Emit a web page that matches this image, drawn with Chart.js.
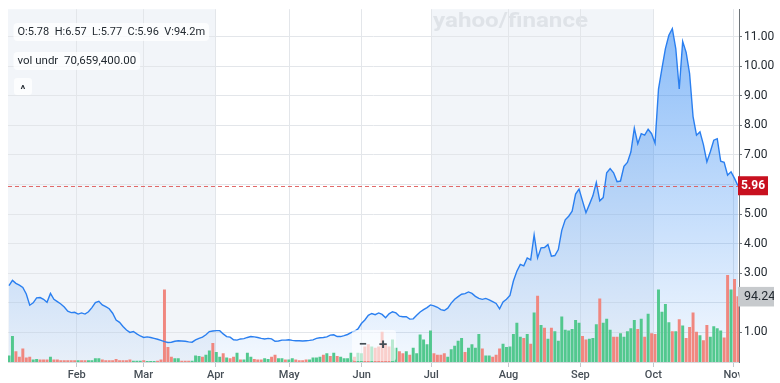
<!DOCTYPE html>
<html><head><meta charset="utf-8">
<script src="https://cdn.jsdelivr.net/npm/chart.js@4/dist/chart.umd.min.js"></script>
<style>html,body{margin:0;padding:0;background:#fff;overflow:hidden}canvas{display:block}</style>
</head><body>
<canvas id="c" width="780" height="383"></canvas>
<script>
// ---- data ----
const monthLabels = ['Feb','Mar','Apr','May','Jun','Jul','Aug','Sep','Oct','Nov'];
const monthPos = [19.6,38.9,59.8,81.1,102.1,122.2,144.6,165.4,186.5,209.6]; // in trading-day index units
const priceTicks = [1,2,3,4,5,6,7,8,9,10,11];

const price = [
2.58,2.76,2.66,2.60,2.52,2.30,1.92,2.00,2.17,2.18,
2.12,2.02,2.32,2.12,2.04,1.96,1.86,1.72,1.67,1.68,
1.62,1.66,1.62,1.70,1.84,2.01,2.05,1.93,1.87,1.80,
1.65,1.42,1.34,1.20,1.08,1.00,1.03,0.95,0.88,0.83,
0.85,0.83,0.80,0.77,0.73,0.69,0.66,0.67,0.70,0.72,
0.71,0.70,0.68,0.67,0.75,0.80,0.84,0.92,1.03,1.05,
1.06,1.06,0.95,0.86,0.84,0.75,0.74,0.78,0.79,0.83,
0.86,0.85,0.83,0.80,0.78,0.80,0.78,0.70,0.71,0.74,
0.74,0.75,0.73,0.72,0.72,0.71,0.72,0.73,0.75,0.80,
0.82,0.83,0.85,0.91,0.92,0.86,0.86,0.89,0.93,0.99,
1.04,1.12,1.30,1.42,1.58,1.64,1.60,1.66,1.61,1.50,
1.63,1.70,1.66,1.55,1.53,1.53,1.45,1.46,1.58,1.69,
1.77,1.84,1.93,1.90,1.85,1.77,1.74,1.82,1.99,2.12,
2.21,2.29,2.31,2.37,2.32,2.22,2.15,2.12,2.15,2.10,
2.04,1.98,1.80,2.03,2.12,2.25,2.74,3.07,3.30,3.25,
3.52,3.45,4.30,3.52,3.86,3.87,3.97,3.58,3.60,3.80,
4.45,4.81,4.93,5.10,5.68,5.85,5.45,5.05,5.33,5.62,
6.07,5.45,5.56,6.40,6.54,6.40,6.10,6.12,6.62,6.75,
7.10,7.91,7.38,7.72,7.67,7.87,7.72,7.40,9.23,9.93,
10.60,11.05,11.27,10.60,9.23,10.84,10.47,9.75,8.30,7.67,
7.78,7.35,6.77,7.11,7.50,7.55,6.79,6.75,6.32,6.43,
6.21,5.96];

const volumeM = [
9,37,15,7,19,6,7,3,4,3, 3,3,7,3,3,2,2,2,2,2,
2,2,2,2,2,5,5,3,2,2, 2,4,2,2,2,3,1.5,1.5,1.5,2,
1,1,1,1.5,3,104,21,7,5,5, 1.5,1.5,1.5,1.5,9,8,7,10,16,27,
14,7,12,6,5,7,13,3,3,13,
7,4,3,3,5,4,7,10,5,5, 3,3,5,3,2,2,3,3,6,6,
7,10,12,8,13,8,7,5,5,13, 7,13,12,22,25,22,20,22,43,25,
22,32,20,15,12,15,10,20,12,39, 32,25,45,12,10,10,12,7,18,23,
30,34,14,20,25,20,40,19,9,9,
7,10,19,26,21,22,40,56,36,34, 40,26,71,95,53,49,33,49,44,30,
65,46,45,47,60,56,37,32,33,34, 54,91,56,62,46,36,36,41,36,44,
48,60,47,62,36,69,41,40,104,72, 83,57,44,44,61,52,34,50,71,43,
38,31,53,36,51,48,45,35,125,104, 119,94.24];

const volumeUp = [
1,1,0,0,0,0,0,1,1,0, 0,0,1,0,0,0,0,0,0,0,
1,0,0,1,1,1,1,0,0,0, 0,0,0,0,0,0,1,1,1,0,
1,1,1,0,0,0,0,0,1,1, 0,0,0,1,1,1,0,1,1,0,
1,1,0,1,0,0,1,0,1,1,
1,0,0,0,1,1,0,0,1,1, 0,1,1,0,0,0,0,1,1,1,
1,0,1,0,1,0,1,1,1,1, 0,1,1,0,0,1,0,0,0,0,
0,1,1,0,0,1,0,1,1,1, 1,1,1,0,0,0,0,1,1,1,
1,1,0,1,1,1,1,0,1,1,
0,0,0,1,1,1,1,1,1,0, 1,0,1,0,1,0,1,0,1,1,
1,1,1,1,1,1,0,0,1,1, 1,0,1,1,1,0,0,1,1,1,
1,1,0,1,0,1,0,0,1,1, 1,1,0,1,0,1,0,0,0,0,
1,0,0,1,1,1,1,0,0,1, 0,0];

const ohlcText = 'O:5.78  H:6.57  L:5.77  C:5.96  V:94.2m';
const volUnderText = 'vol undr  70,659,400.00';
const lastVolumeLabel = '94.24M';

// ---- drawing ----
const FONT = 'Roboto, "Liberation Sans", Arial, sans-serif';
const lastPrice = price[price.length - 1];
const lastVol = volumeM[volumeM.length - 1];

function rr(ctx, x, y, w, h, r) {
  ctx.beginPath();
  ctx.moveTo(x + r, y); ctx.lineTo(x + w - r, y); ctx.quadraticCurveTo(x + w, y, x + w, y + r);
  ctx.lineTo(x + w, y + h - r); ctx.quadraticCurveTo(x + w, y + h, x + w - r, y + h);
  ctx.lineTo(x + r, y + h); ctx.quadraticCurveTo(x, y + h, x, y + h - r);
  ctx.lineTo(x, y + r); ctx.quadraticCurveTo(x, y, x + r, y); ctx.closePath();
}

const decor = {
  id: 'decor',
  beforeDraw(chart) {
    const { ctx, chartArea: a, scales: { x } } = chart;
    ctx.save();
    ctx.fillStyle = '#ffffff';
    ctx.fillRect(0, 0, chart.width, chart.height);
    ctx.fillStyle = '#f2f5f9';
    const apr = x.getPixelForValue(monthPos[2]);
    ctx.fillRect(a.left, a.top, apr - a.left, a.bottom - a.top);
    const jul = x.getPixelForValue(monthPos[5]), oct = x.getPixelForValue(monthPos[8]);
    ctx.fillRect(jul, a.top, oct - jul, a.bottom - a.top);
    // watermark
    ctx.font = 'bold 20px ' + FONT;
    const wm = 'yahoo/finance';
    const w = ctx.measureText(wm).width;
    ctx.translate(433, 26.5);
    ctx.scale(155 / w, 1);
    ctx.fillStyle = '#dfe3e8';
    ctx.textBaseline = 'alphabetic';
    ctx.fillText(wm, 0, 0);
    ctx.restore();
  },
  afterDatasetsDraw(chart) {
    const { ctx, chartArea: a, scales: { y } } = chart;
    const py = Math.round(y.getPixelForValue(lastPrice)) + 0.5;
    ctx.save();
    ctx.strokeStyle = 'rgba(222,80,80,0.85)';
    ctx.lineWidth = 1;
    ctx.setLineDash([4, 3]);
    ctx.beginPath(); ctx.moveTo(a.left, py); ctx.lineTo(a.right, py); ctx.stroke();
    ctx.restore();
  },
  afterDraw(chart) {
    const { ctx, chartArea: a, scales: { y, yv } } = chart;
    ctx.save();
    // clip month label past the axis
    ctx.fillStyle = '#ffffff';
    ctx.fillRect(a.right + 0.5, a.bottom + 1, chart.width - a.right, chart.height - a.bottom);
    // zoom controls
    ctx.fillStyle = 'rgba(255,255,255,0.6)';
    rr(ctx, 352, 330, 44, 31, 3); ctx.fill();
    ctx.fillStyle = '#464e56';
    ctx.font = 'bold 15px ' + FONT;
    ctx.textAlign = 'center'; ctx.textBaseline = 'middle';
    ctx.fillText('\u2212', 363, 345);
    ctx.fillText('+', 383, 345);
    // last price label
    const py = y.getPixelForValue(lastPrice);
    ctx.fillStyle = '#c8101f';
    ctx.fillRect(a.right - 1, py - 9.5, 30, 19);
    ctx.fillStyle = '#ffffff';
    ctx.font = 'bold 12px ' + FONT;
    ctx.fillText(lastPrice.toFixed(2), a.right + 14, py + 0.5);
    // last volume label (clipped at its box edge)
    const vy = yv.getPixelForValue(lastVol);
    ctx.save();
    ctx.beginPath(); ctx.rect(a.right - 1, vy - 10, 774 - a.right + 1, 20); ctx.clip();
    ctx.fillStyle = '#c7cacd';
    ctx.fillRect(a.right - 1, vy - 10, 45, 20);
    ctx.fillStyle = '#232a31';
    ctx.font = '12.5px ' + FONT;
    ctx.textAlign = 'left';
    ctx.fillText(lastVolumeLabel, a.right + 5, vy + 0.5);
    ctx.restore();
    // top-left info boxes
    ctx.textAlign = 'left'; ctx.textBaseline = 'middle';
    ctx.fillStyle = 'rgba(255,255,255,0.75)';
    ctx.font = '11px ' + FONT;
    const w1 = ctx.measureText(ohlcText).width;
    rr(ctx, 13.5, 23, w1 + 8, 18, 4); ctx.fill();
    ctx.font = '11.5px ' + FONT;
    const w2 = ctx.measureText(volUnderText).width;
    rr(ctx, 13.5, 52, w2 + 8, 18, 4); ctx.fill();
    rr(ctx, 14, 78, 18, 17, 3); ctx.fill();
    ctx.fillStyle = '#232a31';
    ctx.font = '11px ' + FONT;
    ctx.fillText(ohlcText, 17.5, 32.5);
    ctx.font = '11.5px ' + FONT;
    ctx.fillText(volUnderText, 17.5, 61.5);
    ctx.textAlign = 'center'; ctx.textBaseline = 'alphabetic';
    ctx.font = 'bold 11px ' + FONT;
    ctx.fillText('^', 23, 93);
    ctx.restore();
  }
};

const pricePts = price.map((v, i) => ({ x: i, y: v }));
const volPts = volumeM.map((v, i) => ({ x: i, y: v }));

function fillGrad(c) {
  const a = c.chart.chartArea;
  if (!a) return 'rgba(0,0,0,0)';
  const g = c.chart.ctx.createLinearGradient(0, a.top, 0, a.bottom);
  g.addColorStop(0, 'rgba(34,128,242,0.55)');
  g.addColorStop(1, 'rgba(34,128,242,0.05)');
  return g;
}

new Chart(document.getElementById('c'), {
  type: 'line',
  data: {
    datasets: [
      { type: 'line', data: pricePts, yAxisID: 'y', xAxisID: 'x', borderWidth: 0, pointRadius: 0,
        tension: 0, fill: 'start', backgroundColor: fillGrad, order: 3 },
      { type: 'bar', data: volPts, yAxisID: 'yv', xAxisID: 'x', barThickness: 2.3,
        backgroundColor: volumeUp.map(u => u ? '#52c88e' : '#f0877f'), order: 2 },
      { type: 'line', data: pricePts, yAxisID: 'y', xAxisID: 'x', borderColor: '#2a7ff0', borderWidth: 1.4,
        pointRadius: 0, tension: 0, fill: false, order: 1 }
    ]
  },
  options: {
    responsive: false, animation: false, devicePixelRatio: 1,
    layout: { padding: { left: 8, top: 6, right: 0, bottom: 0 } },
    plugins: { legend: { display: false }, tooltip: { enabled: false } },
    scales: {
      x: {
        type: 'linear', min: -0.29, max: 211.3, position: 'bottom', offset: false,
        afterBuildTicks: s => { s.ticks = monthPos.map(v => ({ value: v })); },
        afterFit: s => { s.height = 21; },
        ticks: { autoSkip: false, maxRotation: 0, padding: 2, color: '#464e56',
          font: { family: FONT, size: 11, weight: '500' },
          callback: (v, i) => monthLabels[i] },
        grid: { color: '#e3e6ea', drawTicks: true, tickLength: 5, tickColor: '#c3c8cd', offset: false },
        border: { display: true, color: '#d5d9dd' }
      },
      y: {
        type: 'linear', position: 'right', min: 0, max: 11.93,
        afterBuildTicks: s => { s.ticks = priceTicks.map(v => ({ value: v })); },
        afterFit: s => { s.width = 41; },
        ticks: { padding: 2, color: '#232a31', font: { family: FONT, size: 12 },
          callback: v => Number(v).toFixed(2) },
        grid: { color: '#e3e6ea', drawTicks: true, tickLength: 3, tickColor: '#6e7479' },
        border: { display: true, color: '#6e7479' }
      },
      yv: { type: 'linear', display: false, min: 0, max: 508.6 }
    }
  },
  plugins: [decor]
});
</script>
</body></html>
